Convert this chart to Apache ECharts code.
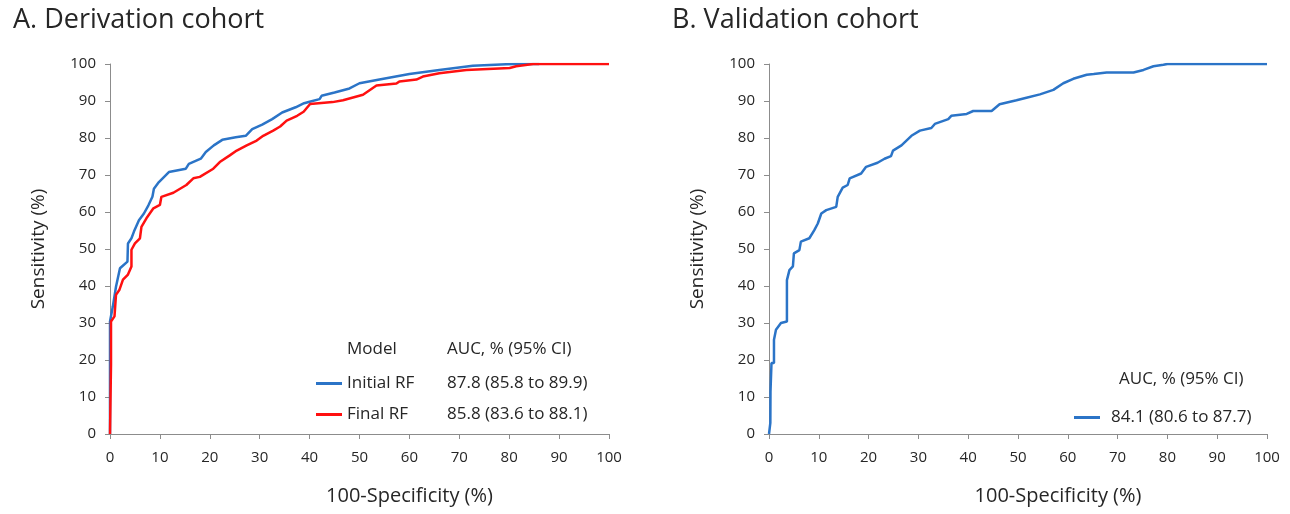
<!DOCTYPE html>
<html>
<head>
<meta charset="utf-8">
<script src="https://cdn.jsdelivr.net/npm/echarts@6/dist/echarts.min.js"></script>
<style>
  html, body { margin: 0; padding: 0; background: #fff; }
  #main { width: 1290px; height: 514px; }
</style>
</head>
<body>
<div id="main"></div>
<script>
// A. Derivation cohort - [100-specificity, sensitivity]
var initialRF = [
    [0, 0], [0, 30.4], [0.57, 34.5], [1.2, 39.8], [2.0, 44.8], [3.5, 46.6], [3.6, 51.5],
    [4.3, 52.9], [4.8, 54.7], [5.8, 57.8], [6.8, 59.6], [7.7, 61.8], [8.5, 64.1],
    [8.8, 66.3], [9.8, 68.1], [11.8, 70.8], [15.2, 71.7], [15.8, 73.0], [18.2, 74.4],
    [19.2, 76.2], [20.8, 78.0], [22.5, 79.5], [25.2, 80.2], [27.2, 80.6], [28.5, 82.4],
    [30.5, 83.6], [32.5, 85.1], [34.5, 86.9], [37.2, 88.3], [38.9, 89.4], [40.0, 89.8],
    [42.0, 90.5], [42.4, 91.4], [45.0, 92.3], [48.0, 93.4], [50.0, 94.8], [54.0, 95.8],
    [60.0, 97.3], [66.0, 98.4], [72.7, 99.5], [79.4, 99.9], [81.4, 100], [86, 100]
];
var finalRF = [
    [0, 0], [0.2, 18.7], [0.2, 30.4], [0.9, 31.8], [1.2, 37.6], [1.9, 39.0], [2.6, 41.7],
    [3.6, 43.1], [4.3, 45.3], [4.3, 49.8], [5.0, 51.5], [6.0, 52.9], [6.3, 56.0],
    [7.3, 58.3], [8.7, 61.0], [10.0, 61.9], [10.3, 64.1], [12.7, 65.2], [15.3, 67.3],
    [16.7, 69.1], [18.0, 69.5], [20.7, 71.7], [22.0, 73.5], [24.0, 75.3], [25.4, 76.6],
    [27.4, 78.0], [29.4, 79.3], [30.7, 80.6], [32.7, 82.0], [34.1, 83.1], [35.4, 84.7],
    [37.5, 86.0], [38.8, 87.1], [40.1, 89.2], [44.6, 89.7], [46.7, 90.2], [50.7, 91.7],
    [53.4, 94.2], [57.4, 94.7], [58.0, 95.3], [61.4, 95.8], [62.7, 96.6], [66.0, 97.5],
    [71.4, 98.4], [80.1, 98.9], [81.4, 99.4], [84.8, 100], [100, 100]
];

// B. Validation cohort
var validation = [
    [0, 0], [0.27, 3.0], [0.3, 11.5], [0.5, 11.5], [0.5, 19.2], [1.0, 19.2], [1.0, 25.5],
    [1.4, 28.2], [2.4, 30.0], [3.6, 30.4], [3.6, 41.6], [4.1, 44.3], [4.8, 45.3],
    [5.0, 48.8], [6.1, 49.7], [6.4, 52.0], [8.1, 52.9], [9.1, 55.1], [9.8, 56.9],
    [10.5, 59.6], [11.5, 60.5], [13.5, 61.4], [13.8, 64.1], [14.8, 66.6], [15.8, 67.3],
    [16.2, 69.1], [18.5, 70.4], [19.5, 72.2], [21.8, 73.3], [23.2, 74.4], [24.5, 75.1],
    [24.9, 76.6], [26.6, 78.0], [28.6, 80.6], [30.3, 82.0], [32.6, 82.7], [33.3, 83.8],
    [36.0, 85.1], [36.6, 86.0], [39.7, 86.5], [41.0, 87.3], [44.7, 87.3], [46.3, 89.1],
    [49.7, 90.2], [51.7, 90.9], [54.4, 91.8], [57.1, 93.0], [59.1, 94.8], [61.1, 96.0],
    [63.8, 97.1], [65.2, 97.3], [67.8, 97.7], [73.2, 97.7], [75.2, 98.4], [77.2, 99.4],
    [79.2, 99.8], [80, 100], [100, 100]
];

var aucText = {
    'Initial RF': '87.8 (85.8 to 89.9)',
    'Final RF': '85.8 (83.6 to 88.1)',
    'Validation': '84.1 (80.6 to 87.7)'
};

var FONT = 'Open Sans';
var txt = '#262626';
var axisGray = '#8c8c8c';

function makeX(idx, shift) {
    return {
        type: 'value', gridIndex: idx, min: 0, max: 100, interval: 10,
        name: '100-Specificity (%)', nameLocation: 'middle', nameGap: 52,
        nameTextStyle: { fontFamily: FONT, fontSize: 20, color: txt, padding: [0, 0, 0, shift] },
        axisLine: { lineStyle: { color: axisGray, width: 1 } },
        axisTick: { show: true, length: 5, lineStyle: { color: axisGray } },
        axisLabel: { fontFamily: FONT, fontSize: 15, color: txt, margin: 16 },
        splitLine: { show: false }
    };
}
function makeY(idx) {
    return {
        type: 'value', gridIndex: idx, min: 0, max: 100, interval: 10,
        name: 'Sensitivity (%)', nameLocation: 'middle', nameGap: 62,
        nameTextStyle: { fontFamily: FONT, fontSize: 19, color: txt },
        axisLine: { show: true, lineStyle: { color: axisGray, width: 1 } },
        axisTick: { show: true, length: 5, lineStyle: { color: axisGray } },
        axisLabel: { fontFamily: FONT, fontSize: 15, color: txt, margin: 14 },
        splitLine: { show: false }
    };
}

var chart = echarts.init(document.getElementById('main'));

var option = {
    backgroundColor: '#fff',
    animation: false,
    title: [
        { text: 'A. Derivation cohort', left: 8, top: 2,
          textStyle: { fontFamily: FONT, fontSize: 27, fontWeight: 'normal', color: txt } },
        { text: 'B. Validation cohort', left: 667, top: 2,
          textStyle: { fontFamily: FONT, fontSize: 27, fontWeight: 'normal', color: txt } }
    ],
    grid: [
        { left: 110, right: 681, top: 64, bottom: 80 },
        { left: 769, right: 23, top: 64, bottom: 80 }
    ],
    xAxis: [makeX(0, 100), makeX(1, 80)],
    yAxis: [makeY(0), makeY(1)],
    legend: [
        {
            data: ['Initial RF', 'Final RF'],
            orient: 'vertical', left: 311, top: 370, itemGap: 14,
            itemWidth: 26, itemHeight: 3, icon: 'rect',
            formatter: function (name) {
                return '{n|' + name + '}{a|' + aucText[name] + '}';
            },
            textStyle: {
                fontFamily: FONT, fontSize: 17, color: txt,
                rich: {
                    n: { fontFamily: FONT, fontSize: 17, color: txt, width: 100 },
                    a: { fontFamily: FONT, fontSize: 17, color: txt }
                }
            }
        },
        {
            data: ['Validation'],
            orient: 'vertical', left: 1069, top: 404,
            itemWidth: 26, itemHeight: 3, icon: 'rect',
            formatter: function (name) { return aucText[name]; },
            textStyle: { fontFamily: FONT, fontSize: 17, color: txt, padding: [0, 0, 0, 6] }
        }
    ],
    graphic: [
        { type: 'text', left: 347, top: 341,
          style: { text: 'Model', font: '17px "Open Sans"', fill: txt } },
        { type: 'text', left: 447, top: 341,
          style: { text: 'AUC, % (95% CI)', font: '17px "Open Sans"', fill: txt } },
        { type: 'text', left: 1119, top: 371,
          style: { text: 'AUC, % (95% CI)', font: '17px "Open Sans"', fill: txt } }
    ],
    series: [
        { name: 'Initial RF', type: 'line', xAxisIndex: 0, yAxisIndex: 0,
          data: initialRF, showSymbol: false, z: 2,
          itemStyle: { color: '#2b74c7' }, lineStyle: { color: '#2b74c7', width: 2.5 } },
        { name: 'Final RF', type: 'line', xAxisIndex: 0, yAxisIndex: 0,
          data: finalRF, showSymbol: false, z: 3,
          itemStyle: { color: '#ff1010' }, lineStyle: { color: '#ff1010', width: 2.5 } },
        { name: 'Validation', type: 'line', xAxisIndex: 1, yAxisIndex: 1,
          data: validation, showSymbol: false,
          itemStyle: { color: '#2b74c7' }, lineStyle: { color: '#2b74c7', width: 2.5 } }
    ]
};

chart.setOption(option);
</script>
</body>
</html>
